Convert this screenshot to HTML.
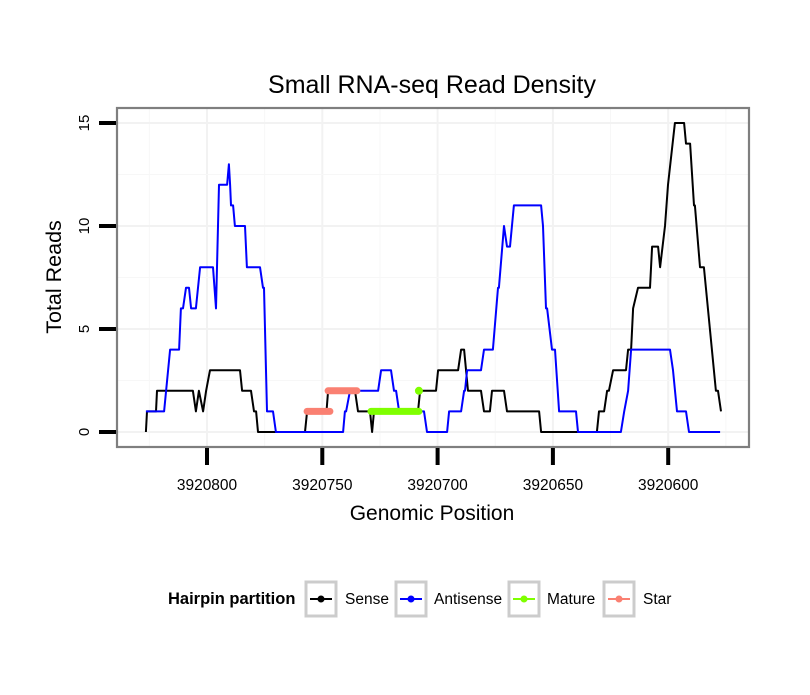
<!DOCTYPE html>
<html><head><meta charset="utf-8"><style>
body{margin:0;background:#fff;}
svg text{font-family:"Liberation Sans",sans-serif;}
</style></head><body>
<svg id="chart" width="810" height="690" xmlns="http://www.w3.org/2000/svg">
<rect width="810" height="690" fill="#fff"/>
<text x="432" y="93" font-size="25" text-anchor="middle">Small RNA-seq Read Density</text>
<g id="grid"></g>
<g id="series"></g>
<rect x="117" y="108" width="632" height="339" fill="none" stroke="#7f7f7f" stroke-width="2.2"/>
<g id="axes"></g>
<text x="432" y="520" font-size="21" text-anchor="middle">Genomic Position</text>
<text transform="translate(61,277) rotate(-90)" font-size="21.5" text-anchor="middle">Total Reads</text>
<g>
<text x="168" y="604" font-size="16.5" font-weight="bold">Hairpin partition</text>
<g>
<rect x="306" y="582" width="30" height="34" fill="#fff" stroke="#cccccc" stroke-width="3"/>
<line x1="310" y1="599" x2="332" y2="599" stroke="#000" stroke-width="2"/><circle cx="321" cy="599" r="3.5" fill="#000"/>
<text x="345" y="604" font-size="15.5">Sense</text></g>
<g>
<rect x="396" y="582" width="30" height="34" fill="#fff" stroke="#cccccc" stroke-width="3"/>
<line x1="400" y1="599" x2="422" y2="599" stroke="#0000ff" stroke-width="2"/><circle cx="411" cy="599" r="3.5" fill="#0000ff"/>
<text x="434" y="604" font-size="15.5">Antisense</text></g>
<g>
<rect x="509" y="582" width="30" height="34" fill="#fff" stroke="#cccccc" stroke-width="3"/>
<line x1="513" y1="599" x2="535" y2="599" stroke="#7fff00" stroke-width="2"/><circle cx="524" cy="599" r="3.5" fill="#7fff00"/>
<text x="547" y="604" font-size="15.5">Mature</text></g>
<g>
<rect x="604" y="582" width="30" height="34" fill="#fff" stroke="#cccccc" stroke-width="3"/>
<line x1="608" y1="599" x2="630" y2="599" stroke="#fa8072" stroke-width="2"/><circle cx="619" cy="599" r="3.5" fill="#fa8072"/>
<text x="643" y="604" font-size="15.5">Star</text></g>
</g>
</svg>
<script>
const xTicks=[3920800,3920750,3920700,3920650,3920600];
const yTicks=[0,5,10,15];
const sensePos=[3920826.5,3920826,3920822.1,3920821.7,3920806.1,3920804.8,3920803.5,3920801.7,3920800.4,3920798.7,3920785.7,3920784.8,3920780.9,3920779.6,3920778.7,3920777.9,3920757.5,3920756.6,3920748.2,3920747.5,3920735.8,3920734.5,3920729.3,3920728.4,3920727.6,3920708.5,3920707.6,3920700.7,3920699.8,3920691.1,3920689.8,3920688.5,3920686.8,3920681.2,3920679.9,3920677.3,3920676.4,3920671.2,3920669.9,3920656,3920655.1,3920630.9,3920630,3920627.8,3920626.5,3920625.7,3920623.9,3920618.3,3920617.4,3920616.1,3920615.2,3920613.1,3920607.9,3920607,3920604.4,3920603.5,3920601.4,3920600.1,3920597.1,3920593.1,3920592.3,3920590.5,3920588.8,3920588.4,3920586.2,3920584.5,3920579.3,3920578.4,3920577.1];
const senseVal=[0,1,1,2,2,1,2,1,2,3,3,2,2,1,1,0,0,1,1,2,2,1,1,0,1,1,2,2,3,3,4,4,2,2,1,1,2,2,1,1,0,0,1,1,2,2,3,3,4,4,6,7,7,9,9,8,10,12,15,15,14,14,11,11,8,8,2,2,1];
const antiPos=[3920826.5,3920818.6,3920816,3920812.1,3920811.3,3920810.4,3920809.1,3920807.8,3920806.9,3920804.8,3920803,3920797.4,3920796.1,3920794.8,3920791.3,3920790.5,3920790,3920789.6,3920788.7,3920787.9,3920783.5,3920782.7,3920777,3920775.7,3920775.3,3920774,3920771.4,3920770.1,3920741,3920740.2,3920739.7,3920738,3920725.8,3920724.5,3920720.2,3920718.9,3920718,3920716.7,3920705.9,3920704.6,3920695.9,3920695,3920689.8,3920688.5,3920688.1,3920687.2,3920681.2,3920679.9,3920676,3920673.8,3920673.4,3920671.2,3920669.9,3920668.6,3920666.9,3920655.1,3920654.3,3920653,3920652.5,3920650.4,3920649.1,3920647.3,3920640,3920639.1,3920620.5,3920619.1,3920617.4,3920616.1,3920599.2,3920597.9,3920596.2,3920592.3,3920591,3920577.5];
const antiVal=[1,1,4,4,6,6,7,7,6,6,8,8,6,12,12,13,12,11,11,10,10,8,8,7,7,1,1,0,0,1,1,2,2,3,3,2,2,1,1,0,0,1,1,2,2,3,3,4,4,7,7,10,9,9,11,11,10,6,6,4,4,1,1,0,0,1,2,4,4,3,1,1,0,0];
const starStart=[3920756.6,3920747.5];
const starEnd=[3920746.7,3920735];
const starVal=[1,2];
const matureStart=[3920728.9];
const matureEnd=[3920708.1];
const matureVal=[1];
const maturePointPos=[3920708.1];
const maturePointVal=[2];

const NS="http://www.w3.org/2000/svg";
const X0=207,XPX=115.3/50,Y0=432,YPX=20.6;
function xs(p){return X0+(3920800-p)*XPX;}
function ys(v){return Y0-v*YPX;}
function mk(tag,attrs,parent){const e=document.createElementNS(NS,tag);for(const k in attrs)e.setAttribute(k,attrs[k]);parent.appendChild(e);return e;}
const grid=document.getElementById('grid'),series=document.getElementById('series'),axes=document.getElementById('axes');
mk('rect',{x:117,y:108,width:632,height:339,fill:'#fff'},grid);
for(let i=-1;i<=xTicks.length;i++){
  const p=3920800-50*i;
  const gx=xs(p);
  if(gx>117&&gx<749){const l=mk('line',{x1:gx,x2:gx,y1:108,y2:447,stroke:'#f2f2f2','stroke-width':2},grid);
  
  }
  const mx=xs(p-25);
  if(mx>117&&mx<749){const l=mk('line',{x1:mx,x2:mx,y1:108,y2:447,stroke:'#f7f7f7','stroke-width':1},grid);
  
  }
}
for(let v=0;v<=17.5;v+=2.5){
  const gy=ys(v);
  if(gy<=108||gy>=447)continue;
  const major=(v%5===0);
  const l=mk('line',{x1:117,x2:749,y1:gy,y2:gy,stroke:major?'#f2f2f2':'#f7f7f7','stroke-width':major?2:1},grid);
  
  
}
function path(pos,val){return pos.map((p,i)=>(i?'L':'M')+xs(p).toFixed(1)+','+ys(val[i]).toFixed(1)).join(' ');}
const sp=mk('path',{d:path(sensePos,senseVal),fill:'none',stroke:'#000','stroke-width':2,'stroke-linejoin':'round'},series);


const ap=mk('path',{d:path(antiPos,antiVal),fill:'none',stroke:'#0000ff','stroke-width':2,'stroke-linejoin':'round'},series);


starStart.forEach((s,i)=>{
  const l=mk('line',{x1:xs(s),x2:xs(starEnd[i]),y1:ys(starVal[i]),y2:ys(starVal[i]),stroke:'#fa8072','stroke-width':7,'stroke-linecap':'round'},series);
  
  
});
matureStart.forEach((s,i)=>{
  const l=mk('line',{x1:xs(s),x2:xs(matureEnd[i]),y1:ys(matureVal[i]),y2:ys(matureVal[i]),stroke:'#7fff00','stroke-width':7,'stroke-linecap':'round'},series);
  
  
});
maturePointPos.forEach((p,i)=>{
  const c=mk('circle',{cx:xs(p),cy:ys(maturePointVal[i]),r:4,fill:'#7fff00'},series);
  
  
});
xTicks.forEach(t=>{
  const x=xs(t);
  const l=mk('line',{x1:x,x2:x,y1:448,y2:465,stroke:'#000','stroke-width':4},axes);
  
  
  const tx=mk('text',{x:x,y:490,'font-size':15.5,'text-anchor':'middle'},axes);
  tx.textContent=String(t);
  
  
});
yTicks.forEach(t=>{
  const y=ys(t);
  const l=mk('line',{x1:99,x2:116,y1:y,y2:y,stroke:'#000','stroke-width':4},axes);
  
  
  const tx=mk('text',{transform:`translate(89,${y}) rotate(-90)`,'font-size':15,'text-anchor':'middle'},axes);
  tx.textContent=String(t);
  
  
});
</script>
</body></html>
